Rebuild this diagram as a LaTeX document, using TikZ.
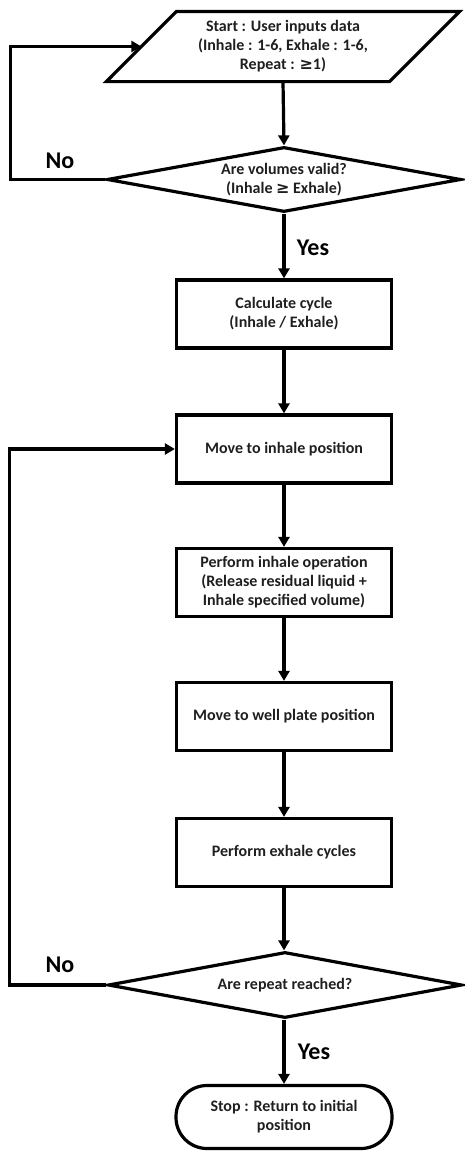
\documentclass[tikz,border=0pt]{standalone}
\usepackage{fontspec}
\setmainfont{Carlito}
\newfontfamily\symfont{DejaVu Sans}
\usetikzlibrary{shapes.geometric,arrows.meta,calc}
\begin{document}
\begin{tikzpicture}[x=1pt,y=-1pt,line width=3.2pt,line join=miter,
  txt/.style={font=\bfseries\fontsize{16}{19}\selectfont,align=center,inner sep=0pt,text=black!88},
  box/.style={txt,draw,rectangle,minimum width=215pt,minimum height=68pt},
  dec/.style={txt,draw,diamond,aspect=5.4,minimum width=354pt,minimum height=65pt},
  term/.style={txt,draw,rectangle,rounded corners=31pt,minimum width=216pt,minimum height=63pt},
  arr/.style={line width=3.2pt,-{Triangle[length=10pt,width=11pt]}},
  lab/.style={font=\bfseries\fontsize{24}{24}\selectfont,inner sep=0pt}]
\useasboundingbox (0,0) rectangle (465,1151);

% start (parallelogram)
\node[txt,minimum width=280pt,minimum height=67pt] (start) at (283,46.5)
  {Start : User inputs data\\(Inhale : 1-6, Exhale : 1-6,\\Repeat : {\symfont ≥}1)};
\draw ($(start.north west)+(35,0)$) -- ($(start.north east)+(35,0)$)
  -- ($(start.south east)+(-35,0)$) -- ($(start.south west)+(-35,0)$) -- cycle;

\node[dec] (d1) at (284,179.5) {Are volumes valid?\\(Inhale {\symfont ≥} Exhale)};
\node[box] (calc) at (284,314) {Calculate cycle\\(Inhale / Exhale)};
\node[box] (inh) at (284,449) {Move to inhale position};
\node[box] (perf) at (284,582.5) {Perform inhale operation\\(Release residual liquid +\\Inhale specified volume)};
\node[box] (well) at (284,716.5) {Move to well plate position};
\node[box] (exh) at (284,852.5) {Perform exhale cycles};
\node[dec,minimum height=66pt] (d2) at (285,985) {Are repeat reached?};
\node[term] (stop) at (284,1117) {Stop : Return to initial\\position};

\node[lab] (no1) at (60,161) {No};
\node[lab] (yes1) at (313,248) {Yes};
\node[lab] (no2) at (60,965) {No};
\node[lab] (yes2) at (314,1052) {Yes};

\draw[arr] (start.south) -- (d1.north);
\draw[arr] (d1.south) -- (calc.north);
\draw[arr] (calc) -- (inh);
\draw[arr] (inh) -- (perf);
\draw[arr] (perf) -- (well);
\draw[arr] (well) -- (exh);
\draw[arr] (exh.south) -- (exh.south |- d2.north);
\draw[arr] (d2.south -| stop.north) -- (stop.north);
\draw[arr] (d1.west) -- ++(-95,0) |- (start.west);
\draw[arr] (d2.west) -- ++(-97,0) |- (inh.west);
\end{tikzpicture}
\end{document}
